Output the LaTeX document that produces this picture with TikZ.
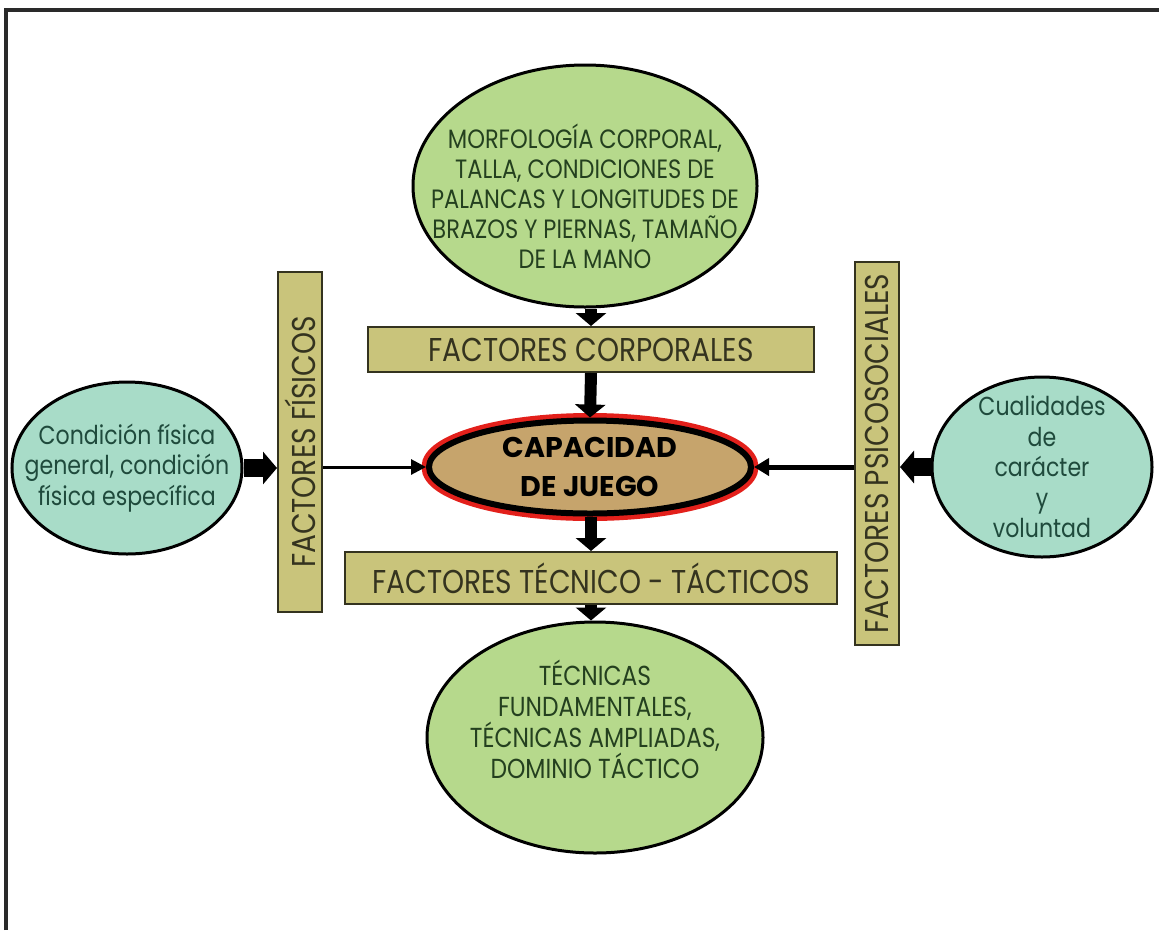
\documentclass[tikz,border=0pt]{standalone}
\usepackage{fontspec}
\setmainfont[FakeStretch=0.85]{Poppins}
\newfontfamily\corefont{Poppins}
\usetikzlibrary{arrows.meta,shapes.geometric}

\definecolor{leafgreen}{HTML}{B6D98C}
\definecolor{mint}{HTML}{A8DCC8}
\definecolor{khaki}{HTML}{C9C47B}
\definecolor{claytan}{HTML}{C6A46C}
\definecolor{ringred}{HTML}{E3201B}
\definecolor{inkgreen}{HTML}{24401F}
\definecolor{inkteal}{HTML}{1F4A3C}
\definecolor{inkbar}{HTML}{34331F}
\definecolor{framegray}{HTML}{2A2A2A}

\tikzset{
  bubble/.style={ellipse, draw=black, line width=3pt, inner sep=0pt},
  bubbletext/.style={align=center, inner sep=0pt, font=\fontsize{26.5}{30}\selectfont},
  lowtext/.style={align=center, inner sep=0pt, font=\fontsize{27.5}{31}\selectfont},
  smalltext/.style={align=center, inner sep=0pt, font=\fontsize{26}{30.5}\selectfont},
  bar/.style={rectangle, draw=inkbar, line width=2pt, fill=khaki, inner sep=0pt,
              text=inkbar, font=\fontsize{33}{36}\selectfont},
  fatarrow/.style={line width=12pt, -{Triangle[width=30pt,length=13pt]}},
  sidearrow/.style={line width=18pt, -{Triangle[width=32pt,length=14pt]}},
  thinarrow/.style={line width=3pt, -{Triangle[width=15pt,length=15pt]}},
  midarrow/.style={line width=5pt, -{Triangle[width=17pt,length=15pt]}},
}

\begin{document}
\begin{tikzpicture}[x=1pt,y=-1pt]
\useasboundingbox (0,0) rectangle (1159,930);

% outer frame (top and left edges)
\draw[framegray, line width=4.5pt] (6,930) -- (6,10) -- (1159,10);

% central ellipse with a red ring outside the black outline
\node[ellipse, inner sep=0pt, minimum width=322pt, minimum height=93pt,
      fill=claytan, draw=black, line width=6pt,
      preaction={draw=ringred, line width=15pt},
      label={[align=center, inner sep=0pt, font=\corefont\bfseries\fontsize{28.5}{39}\selectfont]center:{CAPACIDAD\\DE JUEGO}}]
  (core) at (590,467) {};

% upper and lower bars
\node[bar, minimum width=446pt, minimum height=45pt] (corp) at (591,349.5) {FACTORES CORPORALES};
\node[bar, minimum width=492pt, minimum height=52pt] (tech) at (591,578) {FACTORES TÉCNICO - TÁCTICOS};

% side bars, text running upwards
\node[bar, rotate=90, minimum width=340pt, minimum height=44pt] (fis) at (300,442) {FACTORES FÍSICOS};
\node[bar, rotate=90, minimum width=383pt, minimum height=44pt] (psi) at (877,453.5) {FACTORES PSICOSOCIALES};

% green ellipses
\node[bubble, fill=leafgreen, minimum width=344pt, minimum height=242pt,
      label={[bubbletext, text=inkgreen, yshift=-10pt]center:{MORFOLOGÍA CORPORAL,\\TALLA, CONDICIONES DE\\PALANCAS Y LONGITUDES DE\\BRAZOS Y PIERNAS, TAMAÑO\\DE LA MANO}}]
  (corpell) at (585,186) {};
\node[bubble, fill=leafgreen, minimum width=336pt, minimum height=231pt,
      label={[lowtext, text=inkgreen, yshift=18pt]center:{TÉCNICAS\\FUNDAMENTALES,\\TÉCNICAS AMPLIADAS,\\DOMINIO TÁCTICO}}]
  (techell) at (595,737.5) {};

% mint ellipses
\node[bubble, fill=mint, minimum width=230pt, minimum height=172pt,
      label={[smalltext, text=inkteal]center:{Condición física\\general, condición\\física específica}}]
  (fisell) at (127,468) {};
\node[bubble, fill=mint, minimum width=220pt, minimum height=180pt,
      label={[smalltext, text=inkteal]center:{Cualidades\\de\\carácter\\y\\voluntad}}]
  (psiell) at (1042,467) {};

% vertical connectors
\draw[fatarrow] (corp.north |- corpell.south) -- (corp.north);
\draw[fatarrow] (corp.south) -- (core.north);
\draw[fatarrow] (tech.north |- core.south) -- (tech.north);
\draw[fatarrow] (tech.south) -- (tech.south |- techell.north);

% horizontal connectors
\draw[sidearrow] (fisell.east) -- (fisell.east -| fis.north);
\draw[thinarrow] (fis.south |- core.west) -- (core.west);
\draw[sidearrow] (psiell.west) -- (psiell.west -| psi.south);
\draw[midarrow] (psi.north |- core.east) -- (core.east);
\end{tikzpicture}
\end{document}
